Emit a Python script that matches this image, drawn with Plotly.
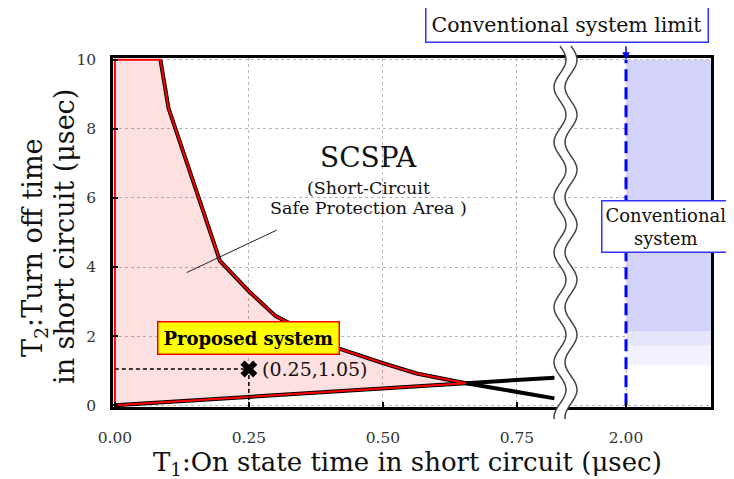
import numpy as np
import plotly.graph_objects as go

# ---------------- data ----------------
xtick_vals_left = [0.0, 0.25, 0.50, 0.75]
xtick_text_left = ["0.00", "0.25", "0.50", "0.75"]
xtick_vals_right = [2.00]
xtick_text_right = ["2.00"]
ytick_vals = [0, 2, 4, 6, 8, 10]

# upper boundary curve (T1, T2)
upper_t1 = [0.085, 0.10, 0.196, 0.25, 0.30, 0.42, 0.50, 0.563, 0.655, 0.82]
upper_t2 = [10.0, 8.6, 4.18, 3.3, 2.58, 1.63, 1.22, 0.92, 0.64, 0.20]
# lower boundary line (T1, T2)
lower_t1 = [0.0, 0.655, 0.82]
lower_t2 = [0.0, 0.64, 0.80]
cross_index = 8          # index in upper curve where both curves meet

proposed_t1 = [0.25]
proposed_t2 = [1.05]

conv_limit_t1 = 2.00
conv_band_t2 = [10.0, 2.15, 1.72, 1.15]
conv_band_colors = ["#d2d2fa", "#e5e5fc", "#f2f2fe"]

T2_MAX = 10.0

# ---------------- layout geometry ----------------
OFF = 8                      # page body margin of the html page
W, H = 734 - OFF, 479 - OFF
PL, PR, PT, PB = 113, 711, 58, 407      # plot box in screen pixels
ML, MR, MT, MB = PL - OFF, W - (PR - OFF), PT - OFF, H - (PB - OFF)
PW, PH = PR - PL, PB - PT
BREAK_PX = 568
split = (BREAK_PX - PL) / PW
pxu = 536.0
x1_range = [-0.0035, -0.0035 + (BREAK_PX - PL) / pxu]
x2_range = [2.0 - (626 - BREAK_PX) / pxu, 2.0 + (PR - 626) / pxu]
y_range = [-0.05, 10.05]


def px2paper(px, py):
    return (px - PL) / PW, (PB - py) / PH


SERIF = "DejaVu Serif"

fig = go.Figure()

# SCSPA region (proposed system)
poly_x = [0.0, 0.0] + upper_t1[:cross_index + 1] + [lower_t1[0]]
poly_y = [lower_t2[0], T2_MAX] + upper_t2[:cross_index + 1] + [lower_t2[0]]
fig.add_trace(go.Scatter(x=poly_x, y=poly_y, fill="toself",
                         fillcolor="rgba(255,0,0,0.12)", mode="lines",
                         line=dict(width=0), hoverinfo="skip", showlegend=False))
# black curves
fig.add_trace(go.Scatter(x=upper_t1, y=upper_t2, mode="lines",
                         line=dict(color="black", width=4), showlegend=False))
fig.add_trace(go.Scatter(x=lower_t1, y=lower_t2, mode="lines",
                         line=dict(color="black", width=4), showlegend=False))
# red outline
fig.add_trace(go.Scatter(x=poly_x, y=poly_y, mode="lines",
                         line=dict(color="#ff0000", width=2), showlegend=False))

# proposed operating point + dashed guides
fig.add_trace(go.Scatter(x=[0.0, proposed_t1[0], proposed_t1[0]],
                         y=[proposed_t2[0], proposed_t2[0], 0.0], mode="lines",
                         line=dict(color="black", width=1.5, dash="4px,3px"),
                         showlegend=False))
fig.add_trace(go.Scatter(x=proposed_t1, y=proposed_t2, mode="markers",
                         marker=dict(symbol="x", size=15, color="black",
                                     line=dict(width=0)),
                         showlegend=False))

# conventional system region (right panel)
for top, bot, col in zip(conv_band_t2[:-1], conv_band_t2[1:], conv_band_colors):
    fig.add_trace(go.Scatter(x=[conv_limit_t1, x2_range[1], x2_range[1], conv_limit_t1, conv_limit_t1],
                             y=[top, top, bot, bot, top], fill="toself",
                             fillcolor=col, mode="lines", line=dict(width=0),
                             xaxis="x2", yaxis="y2", hoverinfo="skip", showlegend=False))
fig.add_trace(go.Scatter(x=[conv_limit_t1, conv_limit_t1], y=[0, T2_MAX], mode="lines",
                         line=dict(color="#0000ff", width=3, dash="12px,6px"),
                         xaxis="x2", yaxis="y2", showlegend=False))

axis_common = dict(showgrid=True, gridcolor="#b8b8b8", griddash="3px,3px", gridwidth=1,
                   zeroline=False, showline=True, linecolor="black", linewidth=2.5,
                   ticks="inside", ticklen=5, tickwidth=1.5, tickcolor="black",
                   automargin=False,
                   tickfont=dict(family=SERIF, size=15.5, color="#333"))

fig.update_layout(
    width=W, height=H, margin=dict(l=ML, r=MR, t=MT, b=MB, autoexpand=False),
    paper_bgcolor="white", plot_bgcolor="white", showlegend=False,
    xaxis=dict(domain=[0, split], range=x1_range, tickvals=xtick_vals_left,
               ticktext=xtick_text_left, mirror=True, anchor="y",
               ticklabelstandoff=15, **axis_common),
    xaxis2=dict(domain=[split, 1], range=x2_range, tickvals=xtick_vals_right,
                ticktext=xtick_text_right, mirror=True, anchor="y2",
                ticklabelstandoff=15, **axis_common),
    yaxis=dict(range=y_range, tickvals=ytick_vals, anchor="x", mirror=False,
               ticklabelstandoff=11, **axis_common),
    yaxis2=dict(range=y_range, tickvals=ytick_vals, anchor="x2", matches="y",
                side="right", showticklabels=False,
                **{**axis_common, "ticks": ""}),
)

# leader line
fig.add_shape(type="line", x0=0.134, y0=3.84, x1=0.302, y1=5.07, xref="x", yref="y",
              line=dict(color="#222", width=1))

# wavy axis break
ys = np.linspace(46, 419, 160)
left_x = 560 + 6 * np.sin(2 * np.pi * (ys - 46) / 55.0)
right_x = left_x + 11
pts_l = [px2paper(a, b) for a, b in zip(left_x, ys)]
pts_r = [px2paper(a, b) for a, b in zip(right_x, ys)]
fill_path = "M " + " L ".join(f"{a:.5f},{b:.5f}" for a, b in pts_l) + " L " + \
    " L ".join(f"{a:.5f},{b:.5f}" for a, b in pts_r[::-1]) + " Z"
fig.add_shape(type="path", path=fill_path, xref="paper", yref="paper",
              fillcolor="white", line=dict(width=0), layer="above")
for pts in (pts_l, pts_r):
    p = "M " + " L ".join(f"{a:.5f},{b:.5f}" for a, b in pts)
    fig.add_shape(type="path", path=p, xref="paper", yref="paper",
                  line=dict(color="#444", width=1.5), layer="above")

C = dict(xanchor="center", yanchor="middle", showarrow=False)
ann = []
ann.append(dict(x=0.474, y=7.16, xref="x", yref="y", text="SCSPA", **C,
                font=dict(family=SERIF, size=28, color="#111")))
ann.append(dict(x=0.474, y=6.3, xref="x", yref="y", text="(Short-Circuit", **C,
                font=dict(family=SERIF, size=17.5, color="#111")))
ann.append(dict(x=0.474, y=5.7, xref="x", yref="y", text="Safe Protection Area )", **C,
                font=dict(family=SERIF, size=17.5, color="#111")))
ann.append(dict(x=0.25, y=1.95, xref="x", yref="y", text="<b>Proposed system</b>", **C,
                bgcolor="#ffff00", bordercolor="#ff0000", borderwidth=1.5,
                borderpad=5, font=dict(family=SERIF, size=18, color="black")))
ann.append(dict(x=proposed_t1[0], y=proposed_t2[0], xref="x", yref="y",
                text="(0.25,1.05)", showarrow=False, xanchor="left", yanchor="middle",
                xshift=11, font=dict(family=SERIF, size=19, color="#111")))
px, py = px2paper(567, 25)
ann.append(dict(x=px, y=py, xref="paper", yref="paper",
                text="Conventional system limit", **C, bgcolor="white",
                bordercolor="#3333ff", borderwidth=1.5, borderpad=5,
                font=dict(family=SERIF, size=20.5, color="#111")))
ann.append(dict(x=conv_limit_t1, y=T2_MAX, xref="x2", yref="y2", text="", showarrow=True,
                ax=0, ay=-15, arrowcolor="#0000ff", arrowhead=2, arrowsize=1,
                arrowwidth=1.5))
px, py = px2paper(666, 226)
ann.append(dict(x=px, y=py, xref="paper", yref="paper",
                text="Conventional<br>system", **C, bgcolor="white",
                bordercolor="#3333ff", borderwidth=1.5, borderpad=3,
                font=dict(family=SERIF, size=18, color="#111")))
px, py = px2paper(407, 463)
ann.append(dict(x=px, y=py, xref="paper", yref="paper",
                text="T<sub>1</sub>:On state time in short circuit (\u03bcsec)", **C,
                font=dict(family=SERIF, size=26, color="#111")))
px, py = px2paper(34, 248)
ann.append(dict(x=px, y=py, xref="paper", yref="paper",
                text="T<sub>2</sub>:Turn off time", textangle=-90, **C,
                font=dict(family=SERIF, size=27, color="#111")))
px, py = px2paper(64, 237)
ann.append(dict(x=px, y=py, xref="paper", yref="paper",
                text="in short circuit (\u03bcsec)", textangle=-90, **C,
                font=dict(family=SERIF, size=27, color="#111")))
fig.update_layout(annotations=ann)

fig.write_html("out.html")
